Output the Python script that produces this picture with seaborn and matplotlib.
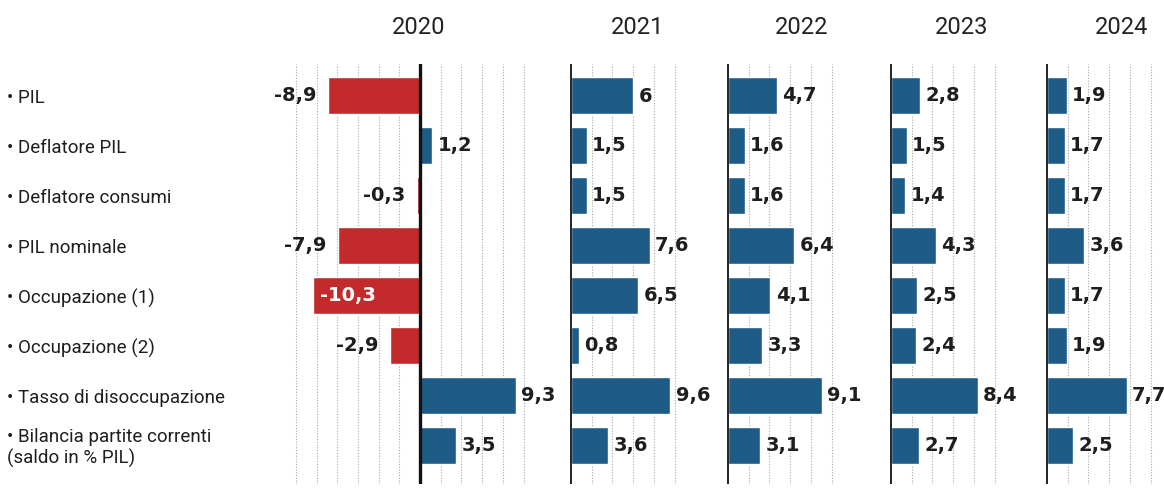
import matplotlib
matplotlib.use("Agg")
import matplotlib.pyplot as plt
import seaborn as sns
import pandas as pd
import numpy as np

# ---- data ----
categories = ["PIL", "Deflatore PIL", "Deflatore consumi", "PIL nominale",
              "Occupazione (1)", "Occupazione (2)", "Tasso di disoccupazione",
              "Bilancia partite correnti\n(saldo in % PIL)"]
years = ["2020", "2021", "2022", "2023", "2024"]
v2020 = [-8.9, 1.2, -0.3, -7.9, -10.3, -2.9, 9.3, 3.5]
v2021 = [6.0, 1.5, 1.5, 7.6, 6.5, 0.8, 9.6, 3.6]
v2022 = [4.7, 1.6, 1.6, 6.4, 4.1, 3.3, 9.1, 3.1]
v2023 = [2.8, 1.5, 1.4, 4.3, 2.5, 2.4, 8.4, 2.7]
v2024 = [1.9, 1.7, 1.7, 3.6, 1.7, 1.9, 7.7, 2.5]
values = [v2020, v2021, v2022, v2023, v2024]

sns.set_theme(style="white")
plt.rcParams['font.family'] = ['Roboto', 'DejaVu Sans']

W, H = 1164, 489
fig = plt.figure(figsize=(W / 100, H / 100), dpi=100)

RED = "#c22a2c"
BLUE = "#1f5b87"
TXT = "#1e1e1e"
PXU = 10.35  # pixels per unit
# (zero position px, xmin, xmax, title center px)
layout = [(420, -12.6, 13.6, 419), (571, -0.3, 13.8, 638), (728, -0.3, 14.7, 802),
          (891, -0.3, 14.5, 962), (1047, -0.3, 11.5, 1122)]
top_px, bot_px = 65, 485
ylim = (7.78, -0.62)

num_font = dict(family="DejaVu Sans", fontsize=14, fontweight="bold")

for yi, (year, vals) in enumerate(zip(years, values)):
    zero, xmin, xmax, tcx = layout[yi]
    left = zero + xmin * PXU
    width = (xmax - xmin) * PXU
    ax = fig.add_axes([left / W, 1 - bot_px / H, width / W, (bot_px - top_px) / H])
    df = pd.DataFrame({"cat": categories, "val": vals})
    df["sign"] = np.where(df["val"] < 0, "neg", "pos")
    sns.barplot(data=df, x="val", y="cat", hue="sign", palette={"neg": RED, "pos": BLUE},
                dodge=False, width=0.74, legend=False, ax=ax, orient="h", saturation=1)
    ax.set_xlim(xmin, xmax)
    ax.set_ylim(*ylim)
    gmin = -12 if yi == 0 else 2
    for g in range(gmin, 11, 2):
        if g == 0:
            continue
        ax.axvline(g, color="#a8a8a8", lw=0.8, ls=(0, (1, 1.5)), zorder=0)
    ax.axvline(0, color="#111111", lw=2.4 if yi == 0 else 1.3, zorder=3)
    for s in ax.spines.values():
        s.set_visible(False)
    ax.set_xticks([])
    ax.set_yticks([])
    ax.set_xlabel("")
    ax.set_ylabel("")
    ax.patch.set_alpha(0)
    for i, v in enumerate(vals):
        txt = f"{v:g}".replace(".", ",")
        if v < -10:
            ax.text(v + 0.6, i, txt, ha="left", va="center", color="white", **num_font)
        elif v < 0:
            ax.text(v - 1.1, i, txt, ha="right", va="center", color=TXT, **num_font)
        else:
            ax.text(v + 0.5, i, txt, ha="left", va="center", color=TXT, **num_font)
    fig.text(tcx / W, 1 - 27 / H, year, ha="center", va="center",
             fontsize=17, color="#222222")

# row labels
label_ax = fig.axes[0]
for i, c in enumerate(categories):
    lines = c.split("\n")
    txt = "\u2022 " + "\n".join(lines)
    label_ax.annotate(txt, xy=(0, i), xycoords=("figure fraction", "data"),
                      xytext=(5, -1.5), textcoords="offset points",
                      ha="left", va="center", fontsize=13.5, color=TXT,
                      linespacing=1.2, annotation_clip=False)

fig.savefig("out.png", dpi=100, facecolor="white")
